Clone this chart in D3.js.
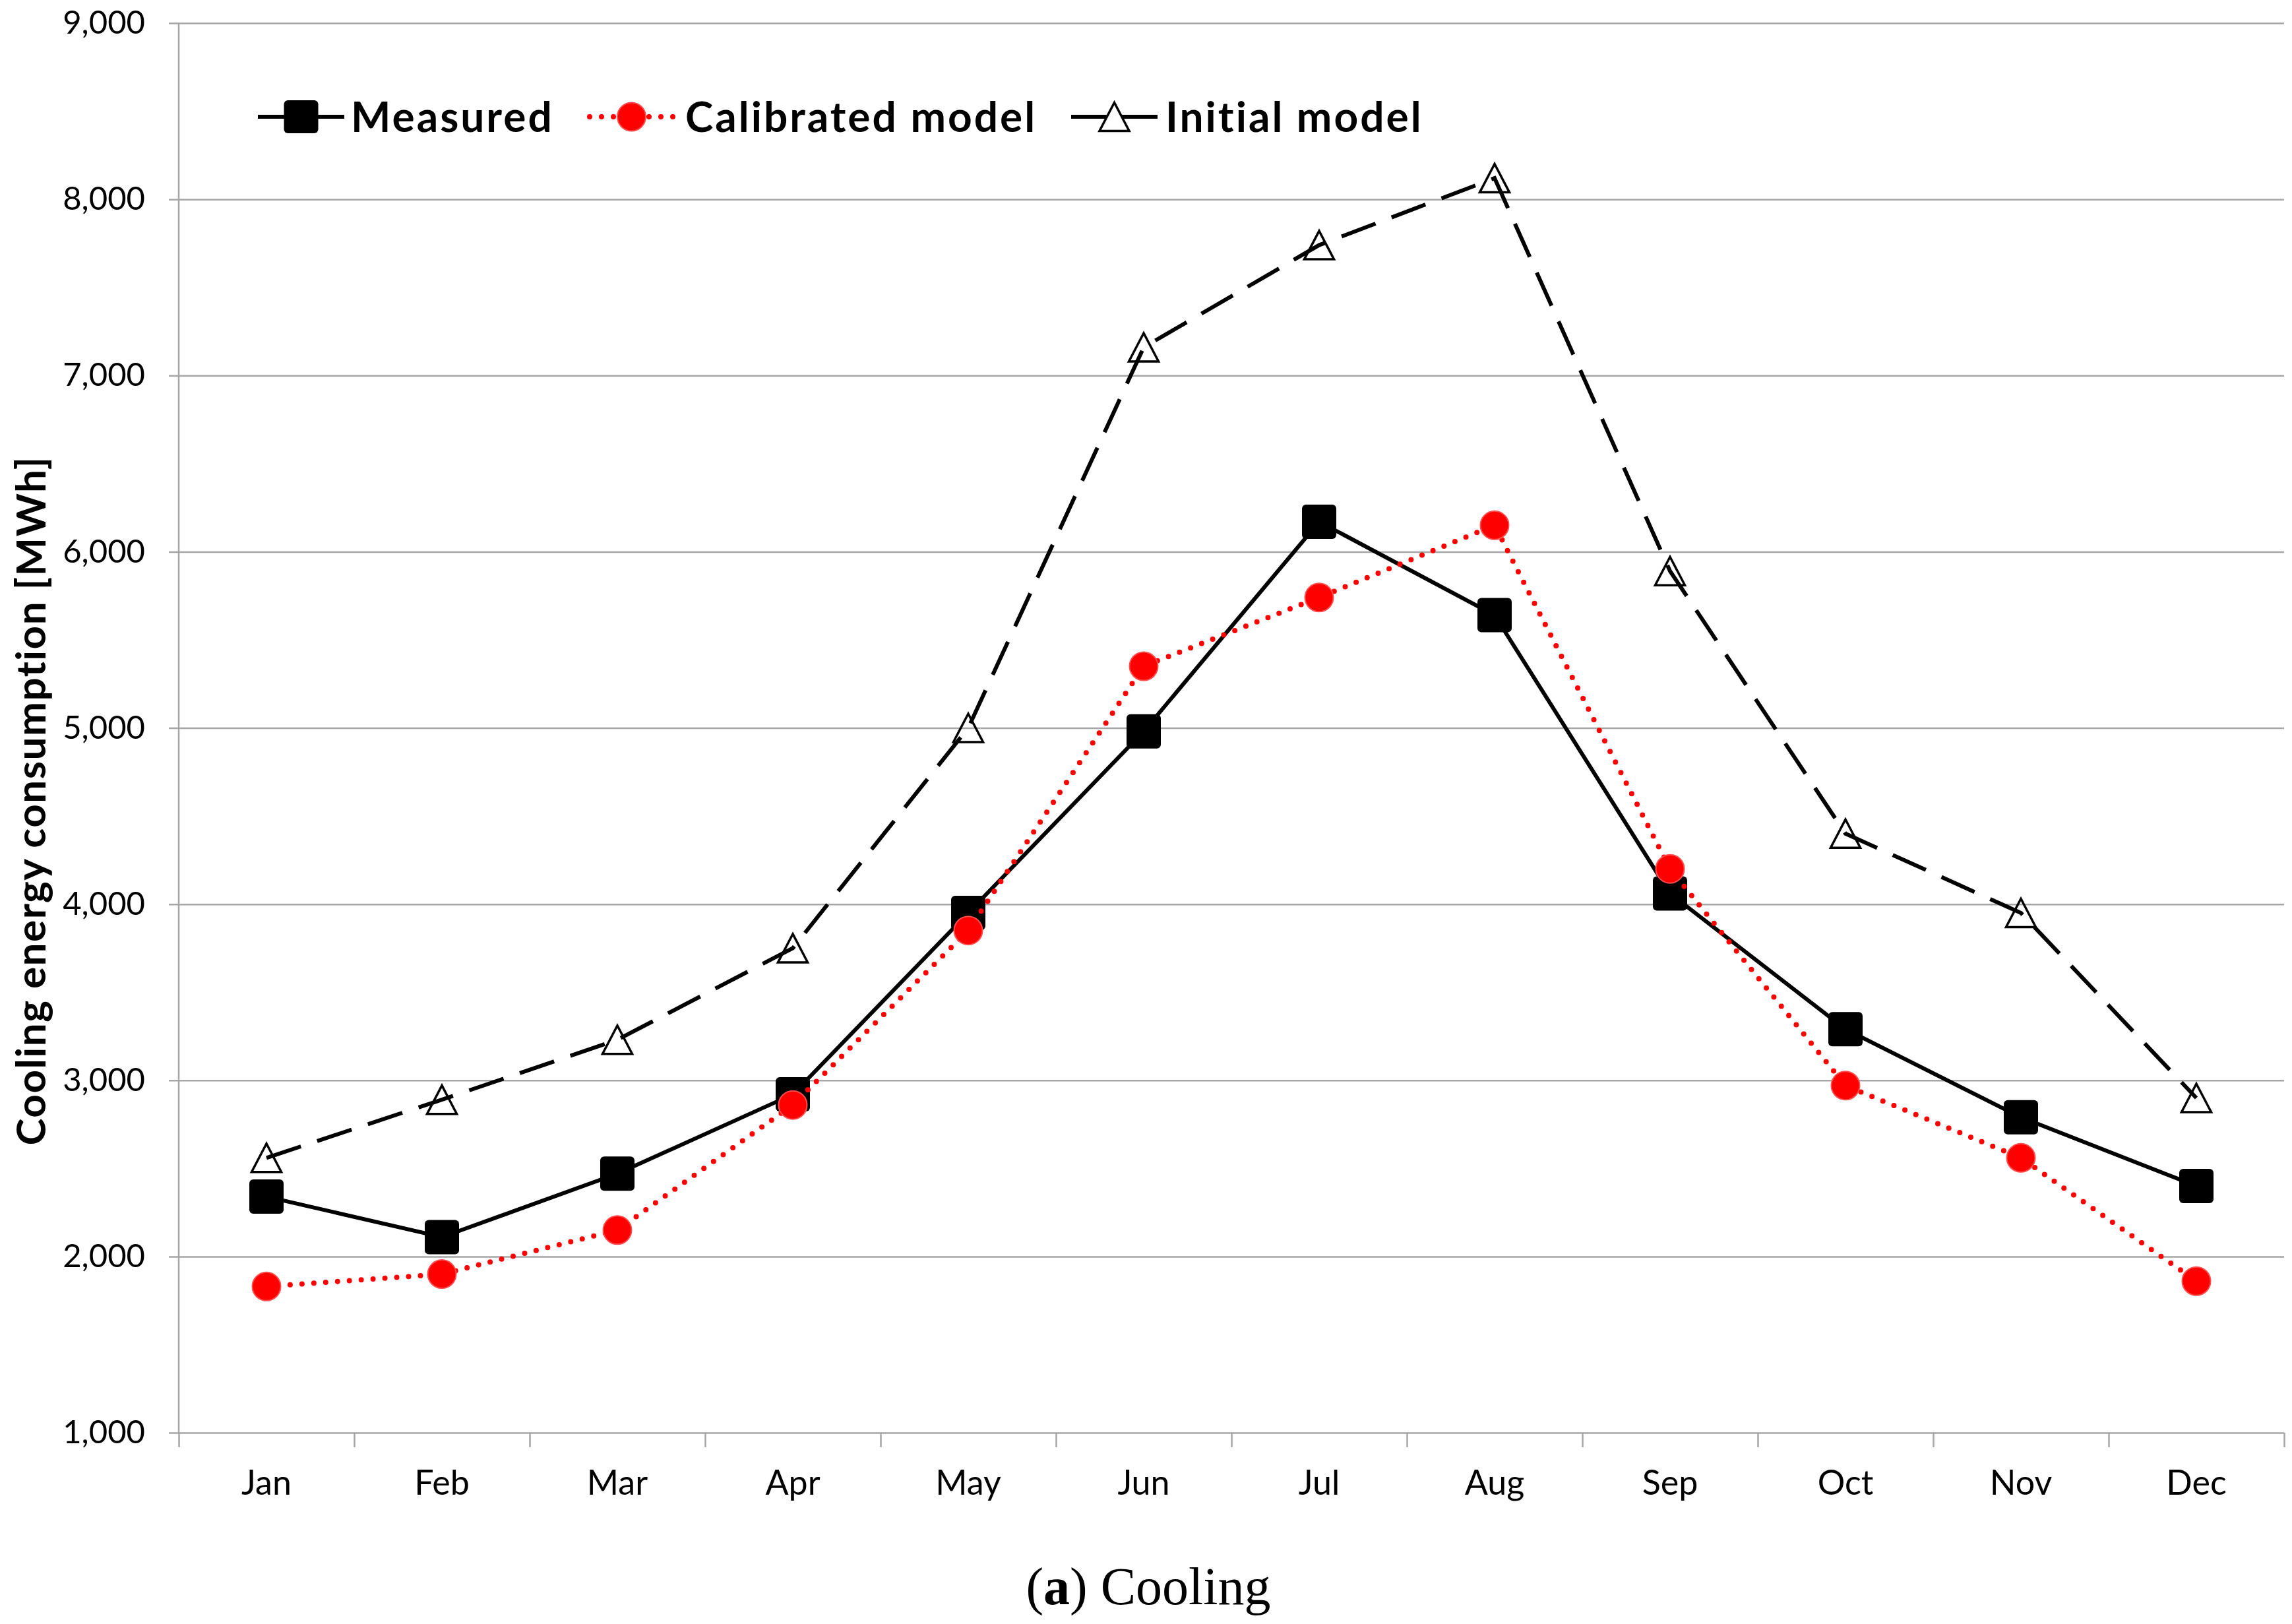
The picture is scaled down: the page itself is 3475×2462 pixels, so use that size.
<!DOCTYPE html>
<html>
<head>
<meta charset="utf-8">
<script src="https://cdn.jsdelivr.net/npm/d3@7"></script>
<style>
	body { margin: 0; background: #fff; }
	svg { display: block; }
</style>
</head>
<body>
<svg id="chart"></svg>
<script>
/*=================
=== Data
=================*/
var months = ['Jan', 'Feb', 'Mar', 'Apr', 'May', 'Jun', 'Jul', 'Aug', 'Sep', 'Oct', 'Nov', 'Dec'];
var measured = [2340, 2110, 2470, 2920, 3950, 4980, 6170, 5640, 4060, 3290, 2790, 2400];
var calibrated = [1830, 1900, 2150, 2860, 3850, 5350, 5740, 6150, 4200, 2970, 2560, 1860];
var initial = [2560, 2890, 3230, 3750, 5000, 7160, 7740, 8120, 5890, 4400, 3950, 2900];
var yTicks = [1000, 2000, 3000, 4000, 5000, 6000, 7000, 8000, 9000];
var seriesNames = ['Measured', 'Calibrated model', 'Initial model'];

/*=================
=== Global vars
=================*/
var width = 3475;
var height = 2462;
var plotLeft = 271;
var plotRight = 3463;
var plotTop = 35;
var plotBottom = 2172;

var svg = d3.select('#chart')
	.attr('width', width)
	.attr('height', height)
	.attr('viewBox', `0 0 ${width} ${height}`);

var x = d3.scaleBand()
	.domain(months)
	.range([plotLeft, plotRight]);

// boundaries between categories, for the tick marks
var xEdge = d3.scaleLinear()
	.domain([0, months.length])
	.range([plotLeft, plotRight]);

var y = d3.scaleLinear()
	.domain([1000, 9000])
	.range([plotBottom, plotTop]);

var cx = (d, i) => x(months[i]) + x.bandwidth() / 2;

var gridColor = '#a6a6a6';
var fontSans = 'Lato, "Open Sans", sans-serif';

/*=================
=== Axes
=================*/
var yAxis = svg.append('g')
	.attr('class', 'y-axis')
	.attr('transform', `translate(${plotLeft - 15},0)`)
	.call(d3.axisLeft(y)
		.tickValues(yTicks)
		.tickSize(-(plotRight - plotLeft + 15))
		.tickPadding(36)
		.tickFormat(d3.format(',')));

yAxis.select('.domain').remove();
yAxis.selectAll('.tick line')
	.attr('stroke', gridColor)
	.attr('stroke-width', 2.5);
yAxis.selectAll('.tick text')
	.attr('font-family', fontSans)
	.attr('font-size', 49)
	.attr('fill', '#000');

// left axis line
svg.append('line')
	.attr('x1', plotLeft).attr('x2', plotLeft)
	.attr('y1', plotTop).attr('y2', plotBottom)
	.attr('stroke', gridColor)
	.attr('stroke-width', 2.5);

// category boundary ticks
var xTicks = svg.append('g')
	.attr('transform', `translate(0,${plotBottom})`)
	.call(d3.axisBottom(xEdge)
		.tickValues(d3.range(months.length + 1))
		.tickSize(22)
		.tickFormat(''));
xTicks.select('.domain').remove();
xTicks.selectAll('.tick line')
	.attr('stroke', gridColor)
	.attr('stroke-width', 2.5);

// month labels
var xAxis = svg.append('g')
	.attr('transform', `translate(0,${plotBottom})`)
	.call(d3.axisBottom(x).tickSize(0).tickPadding(57));
xAxis.select('.domain').remove();
xAxis.selectAll('.tick text')
	.attr('font-family', fontSans)
	.attr('font-size', 52)
	.attr('fill', '#000');

// y title
svg.append('text')
	.attr('transform', 'translate(45,1214) rotate(-90)')
	.attr('text-anchor', 'middle')
	.attr('dominant-baseline', 'central')
	.attr('font-family', fontSans)
	.attr('font-weight', 'bold')
	.attr('font-size', 62)
	.attr('letter-spacing', 1.5)
	.text('Cooling energy consumption [MWh]');

/*=================
=== Series
=================*/
var lineGen = d3.line()
	.x(cx)
	.y(d => y(d));

function squareMark(sel) {
	sel.attr('width', 52).attr('height', 52)
		.attr('rx', 6).attr('ry', 6)
		.attr('fill', '#000');
}
function circleMark(sel) {
	sel.attr('r', 21.5)
		.attr('fill', '#ff0000')
		.attr('stroke', '#ff4d4d')
		.attr('stroke-width', 2);
}
var triPath = 'M0,-21.5L22.5,21.5L-22.5,21.5Z';
function triMark(sel) {
	sel.attr('d', triPath)
		.attr('fill', 'none')
		.attr('stroke', '#000')
		.attr('stroke-width', 3.5)
		.attr('stroke-linejoin', 'miter');
}

// Measured
svg.append('path')
	.datum(measured)
	.attr('d', lineGen)
	.attr('fill', 'none')
	.attr('stroke', '#000')
	.attr('stroke-width', 6);
svg.append('g').selectAll('rect')
	.data(measured)
	.enter()
	.append('rect')
	.attr('x', (d, i) => cx(d, i) - 26)
	.attr('y', d => y(d) - 26)
	.call(squareMark);

// Calibrated model
svg.append('path')
	.datum(calibrated)
	.attr('d', lineGen)
	.attr('fill', 'none')
	.attr('stroke', '#ff0000')
	.attr('stroke-width', 8)
	.attr('stroke-linecap', 'round')
	.attr('stroke-dasharray', '0 18');
svg.append('g').selectAll('circle')
	.data(calibrated)
	.enter()
	.append('circle')
	.attr('cx', cx)
	.attr('cy', d => y(d))
	.call(circleMark);

// Initial model
svg.append('path')
	.datum(initial)
	.attr('d', lineGen)
	.attr('fill', 'none')
	.attr('stroke', '#000')
	.attr('stroke-width', 6)
	.attr('stroke-dasharray', '55 26');
svg.append('g').selectAll('path')
	.data(initial)
	.enter()
	.append('path')
	.attr('transform', (d, i) => `translate(${cx(d, i)},${y(d)})`)
	.call(triMark);

/*=================
=== Legend
=================*/
var legendY = 177;
var legendItems = [
	{ name: seriesNames[0], x1: 391, x2: 522, text: 532 },
	{ name: seriesNames[1], x1: 894, x2: 1021, text: 1039 },
	{ name: seriesNames[2], x1: 1624, x2: 1755, text: 1767 }
];

var legend = svg.append('g').attr('class', 'legend');

legendItems.forEach((item, i) => {
	var g = legend.append('g');
	var mid = (item.x1 + item.x2) / 2;
	var ln = g.append('line')
		.attr('x1', item.x1).attr('x2', item.x2)
		.attr('y1', legendY).attr('y2', legendY)
		.attr('fill', 'none');
	if (i === 0) {
		ln.attr('stroke', '#000').attr('stroke-width', 6);
		g.append('rect').attr('x', mid - 26).attr('y', legendY - 25).call(squareMark).attr('height', 50);
	} else if (i === 1) {
		ln.attr('stroke', '#ff0000').attr('stroke-width', 8)
			.attr('stroke-linecap', 'round').attr('stroke-dasharray', '0 18');
		g.append('circle').attr('cx', mid).attr('cy', legendY).call(circleMark);
	} else {
		ln.attr('stroke', '#000').attr('stroke-width', 6);
		g.append('path').attr('transform', `translate(${mid},${legendY})`)
			.call(triMark).attr('fill', '#fff');
	}
	g.append('text')
		.attr('x', item.text)
		.attr('y', legendY + 23)
		.attr('font-family', fontSans)
		.attr('font-weight', 'bold')
		.attr('font-size', 64)
		.attr('letter-spacing', 3)
		.text(item.name);
});

/*=================
=== Caption
=================*/
var caption = svg.append('text')
	.attr('x', 1741)
	.attr('y', 2432)
	.attr('text-anchor', 'middle')
	.attr('font-family', '"Liberation Serif", "Times New Roman", serif')
	.attr('font-size', 80);
caption.append('tspan').text('(');
caption.append('tspan').attr('font-weight', 'bold').text('a');
caption.append('tspan').text(') Cooling');
</script>
</body>
</html>
